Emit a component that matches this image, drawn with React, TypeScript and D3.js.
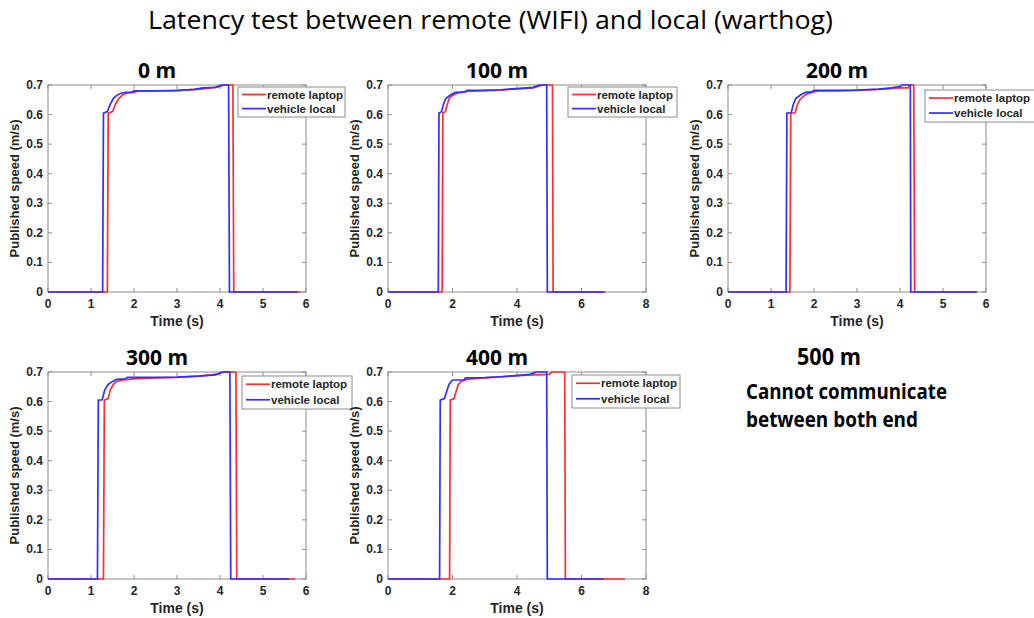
import * as d3 from 'd3';
import React from 'react';

// published speed samples [time (s), speed (m/s)]
const remote0m: [number, number][] = [[0.02, 0], [1.38, 0], [1.40, 0.605], [1.5, 0.61], [1.57, 0.635], [1.65, 0.655], [1.75, 0.668], [1.85, 0.673], [2.0, 0.675], [2.1, 0.68], [2.5, 0.68], [3.0, 0.682], [3.5, 0.685], [3.8, 0.69], [4.0, 0.695], [4.1, 0.7], [4.3, 0.7], [4.32, 0], [5.88, 0]];
const local0m: [number, number][] = [[0, 0], [1.27, 0], [1.29, 0.605], [1.38, 0.61], [1.45, 0.635], [1.52, 0.655], [1.6, 0.665], [1.7, 0.672], [1.8, 0.675], [1.95, 0.676], [2.0, 0.68], [2.5, 0.68], [3.0, 0.681], [3.4, 0.685], [3.6, 0.69], [3.9, 0.692], [4.0, 0.698], [4.05, 0.7], [4.2, 0.7], [4.22, 0], [5.8, 0]];

const remote100m: [number, number][] = [[0.05, 0], [1.68, 0], [1.70, 0.605], [1.78, 0.61], [1.84, 0.635], [1.9, 0.655], [2.0, 0.665], [2.15, 0.672], [2.4, 0.678], [3.0, 0.681], [3.5, 0.683], [4.0, 0.687], [4.5, 0.69], [4.8, 0.7], [5.1, 0.7], [5.12, 0], [6.75, 0]];
const local100m: [number, number][] = [[0, 0], [1.56, 0], [1.58, 0.605], [1.66, 0.61], [1.72, 0.635], [1.78, 0.652], [1.88, 0.662], [2.0, 0.67], [2.1, 0.675], [2.4, 0.677], [2.45, 0.682], [3.0, 0.682], [3.5, 0.684], [4.0, 0.688], [4.5, 0.692], [4.65, 0.698], [4.7, 0.7], [4.92, 0.7], [4.94, 0], [6.7, 0]];

const remote200m: [number, number][] = [[0.02, 0], [1.44, 0], [1.46, 0.605], [1.56, 0.606], [1.62, 0.635], [1.68, 0.652], [1.8, 0.667], [1.95, 0.675], [2.1, 0.68], [2.5, 0.68], [3.0, 0.682], [3.5, 0.685], [4.0, 0.69], [4.2, 0.69], [4.22, 0.7], [4.32, 0.7], [4.34, 0], [5.8, 0]];
const local200m: [number, number][] = [[0, 0], [1.35, 0], [1.37, 0.605], [1.47, 0.606], [1.52, 0.635], [1.58, 0.655], [1.7, 0.668], [1.8, 0.675], [1.95, 0.677], [2.0, 0.682], [2.5, 0.682], [3.0, 0.683], [3.5, 0.686], [3.8, 0.69], [4.0, 0.695], [4.05, 0.7], [4.24, 0.7], [4.25, 0], [5.78, 0]];

const remote300m: [number, number][] = [[0.02, 0], [1.29, 0], [1.31, 0.605], [1.4, 0.61], [1.45, 0.64], [1.52, 0.658], [1.6, 0.668], [1.75, 0.673], [2.0, 0.677], [2.5, 0.68], [3.0, 0.682], [3.5, 0.686], [3.8, 0.69], [4.0, 0.695], [4.1, 0.7], [4.37, 0.7], [4.39, 0], [5.75, 0]];
const local300m: [number, number][] = [[0, 0], [1.15, 0], [1.17, 0.605], [1.26, 0.606], [1.32, 0.64], [1.4, 0.658], [1.5, 0.668], [1.6, 0.675], [1.8, 0.677], [1.85, 0.682], [2.5, 0.682], [3.0, 0.683], [3.5, 0.686], [3.9, 0.69], [4.0, 0.697], [4.05, 0.7], [4.23, 0.7], [4.25, 0], [5.6, 0]];

const remote400m: [number, number][] = [[0.05, 0], [1.91, 0], [1.93, 0.605], [2.05, 0.61], [2.1, 0.63], [2.18, 0.658], [2.3, 0.67], [2.45, 0.675], [3.0, 0.68], [3.5, 0.684], [4.0, 0.688], [4.5, 0.69], [5.0, 0.692], [5.08, 0.7], [5.48, 0.7], [5.5, 0], [7.35, 0]];
const local400m: [number, number][] = [[0, 0], [1.6, 0], [1.62, 0.605], [1.75, 0.61], [1.82, 0.635], [1.9, 0.66], [2.0, 0.673], [2.35, 0.673], [2.4, 0.68], [3.0, 0.681], [3.5, 0.684], [4.0, 0.688], [4.4, 0.692], [4.55, 0.698], [4.6, 0.7], [4.92, 0.7], [4.94, 0], [6.68, 0]];

const panelTitles = ['0 m', '100 m', '200 m', '300 m', '400 m'];
const timeMax = [6, 8, 6, 6, 8];
const remoteSeries = [remote0m, remote100m, remote200m, remote300m, remote400m];
const localSeries = [local0m, local100m, local200m, local300m, local400m];
const speedTicks = [0, 0.1, 0.2, 0.3, 0.4, 0.5, 0.6, 0.7];
const legendLabels = ['remote laptop', 'vehicle local'];

const mainTitle = 'Latency test between remote (WIFI) and local (warthog)';
const noLinkTitle = '500 m';
const noLinkText = ['Cannot communicate', 'between both end'];

// layout: axes box of each panel, legend offset inside it
const W = 258, H = 207;
const layout = [
  { left: 48, top: 85, lgX: 190, lgY: 2, lgW: 107, lgH: 30 },
  { left: 388, top: 85, lgX: 180, lgY: 2, lgW: 109, lgH: 30 },
  { left: 728, top: 85, lgX: 197, lgY: 5, lgW: 112, lgH: 32 },
  { left: 48, top: 372, lgX: 194, lgY: 4, lgW: 110, lgH: 33 },
  { left: 388, top: 372, lgX: 184, lgY: 3, lgW: 108, lgH: 33 },
];

const RED = '#ff3030';
const BLUE = '#3030ff';
const AXIS = '#8c8c8c';
const TXT = '#262626';
const axisFont = '"Liberation Sans", Arial, sans-serif';
const slideFont = '"Open Sans", "Noto Sans", sans-serif';

const Panel = ({ i }: { i: number }) => {
  const { left, top, lgX, lgY, lgW, lgH } = layout[i];
  const x = d3.scaleLinear().domain([0, timeMax[i]]).range([0, W]);
  const y = d3.scaleLinear().domain([0, 0.7]).range([H, 0]);
  const line = d3.line<[number, number]>().x(d => x(d[0])).y(d => y(d[1]));
  const xt = d3.range(0, timeMax[i] + 0.001, timeMax[i] === 8 ? 2 : 1);
  const tl = 4;
  return (
    <g transform={`translate(${left},${top})`}>
      <text x={W / 2 - 20} y={-7} textAnchor="middle" fontFamily={slideFont} fontWeight="bold" fontSize={21} fill="#000">{panelTitles[i]}</text>
      <rect x={0} y={0} width={W} height={H} fill="#fff" stroke={AXIS} strokeWidth={1} />
      {xt.map(t => (
        <g key={'x' + t}>
          <line x1={x(t)} x2={x(t)} y1={H} y2={H - tl} stroke={AXIS} />
          <line x1={x(t)} x2={x(t)} y1={0} y2={tl} stroke={AXIS} />
          <text x={x(t)} y={H + 16} textAnchor="middle" fontFamily={axisFont} fontWeight="bold" fontSize={12} fill={TXT}>{t}</text>
        </g>
      ))}
      {speedTicks.map(v => (
        <g key={'y' + v}>
          <line x1={0} x2={tl} y1={y(v)} y2={y(v)} stroke={AXIS} />
          <line x1={W} x2={W - tl} y1={y(v)} y2={y(v)} stroke={AXIS} />
          <text x={-5} y={y(v) + 4} textAnchor="end" fontFamily={axisFont} fontWeight="bold" fontSize={12} fill={TXT}>{v === 0 ? '0' : v.toFixed(1)}</text>
        </g>
      ))}
      <path d={line(remoteSeries[i]) || ''} fill="none" stroke={RED} strokeWidth={1.7} />
      <path d={line(localSeries[i]) || ''} fill="none" stroke={BLUE} strokeWidth={1.7} />
      <text x={W / 2} y={H + 34} textAnchor="middle" fontFamily={axisFont} fontWeight="bold" fontSize={14} fill={TXT}>Time (s)</text>
      <text transform={`translate(-29,${H / 2}) rotate(-90)`} textAnchor="middle" fontFamily={axisFont} fontWeight="bold" fontSize={13} fill={TXT}>Published speed (m/s)</text>
      <g transform={`translate(${lgX},${lgY})`}>
        <rect x={0} y={0} width={lgW} height={lgH} fill="#fff" stroke={AXIS} strokeWidth={1} />
        {legendLabels.map((lab, k) => {
          const ly = lgH * (k === 0 ? 0.25 : 0.72);
          return (
            <g key={lab}>
              <line x1={4} x2={28} y1={ly} y2={ly} stroke={k === 0 ? RED : BLUE} strokeWidth={1.7} />
              <text x={29} y={ly + 4} fontFamily={axisFont} fontWeight="bold" fontSize={11.5} fill={TXT}>{lab}</text>
            </g>
          );
        })}
      </g>
    </g>
  );
};

export default function App() {
  return (
    <svg width={1034} height={618} style={{ display: 'block', position: 'absolute', left: 0, top: 0 }}>
      <rect width={1034} height={618} fill="#fff" />
      <text x={148} y={29} textLength={685} lengthAdjust="spacingAndGlyphs" fontFamily={slideFont} fontSize={26} fill="#000">{mainTitle}</text>
      {panelTitles.map((_, i) => <Panel key={i} i={i} />)}
      <text x={797} y={365} textLength={64} lengthAdjust="spacingAndGlyphs" fontFamily={slideFont} fontWeight="bold" fontSize={23} fill="#000">{noLinkTitle}</text>
      {noLinkText.map((s, k) => (
        <text key={s} x={746} y={399 + k * 28} textLength={k === 0 ? 201 : 172} lengthAdjust="spacingAndGlyphs" fontFamily={slideFont} fontWeight="bold" fontSize={21} fill="#000">{s}</text>
      ))}
    </svg>
  );
}
